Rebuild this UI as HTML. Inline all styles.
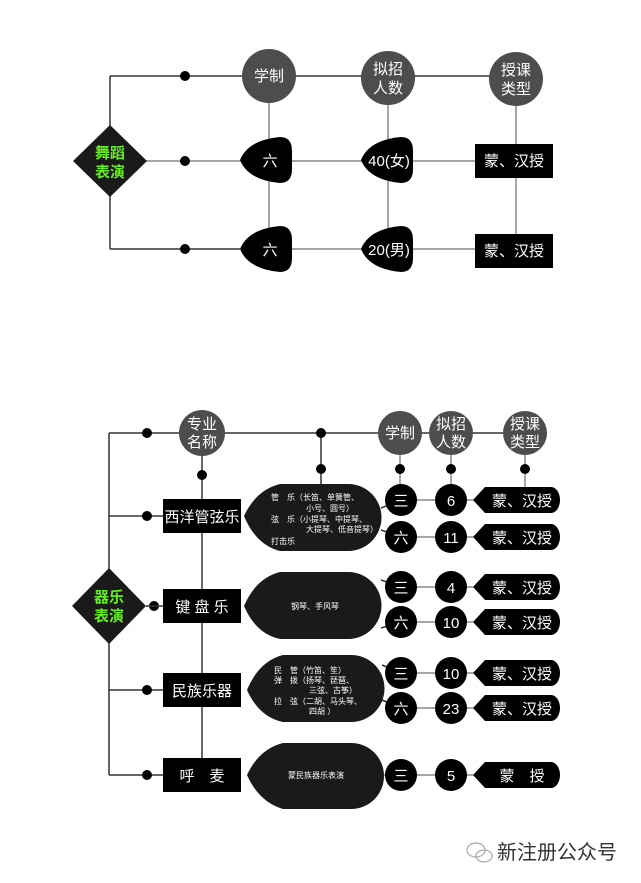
<!DOCTYPE html>
<html><head><meta charset="utf-8">
<style>
html,body{margin:0;padding:0;background:#fff;}
svg{display:block;}
text{font-family:"Liberation Sans","Noto Sans CJK SC",sans-serif;}
</style></head><body>
<svg width="641" height="883" viewBox="0 0 641 883" xmlns="http://www.w3.org/2000/svg">
<defs>
<path id="shield" d="M0,23 Q8,3 40,0 Q52,0 52,14 V32 Q52,46 40,46 Q8,43 0,23Z"/>
</defs>
<!-- TOP SECTION -->
<g stroke="#333" stroke-width="1.5" fill="none">
<path d="M110,76 V249 M110,76 H516 M110,249 H240"/>
</g>
<g stroke="#888" stroke-width="1.5" fill="none">
<path d="M146,161 H516 M269,76 V249 M388,76 V249 M516,79 V249 M292,249 H475"/>
</g>
<circle cx="185" cy="76" r="5" fill="#000"/>
<circle cx="185" cy="161" r="5" fill="#000"/>
<circle cx="185" cy="249" r="5" fill="#000"/>
<circle cx="269" cy="76" r="27" fill="#4d4d4d"/>
<circle cx="388" cy="78" r="27" fill="#4d4d4d"/>
<circle cx="516" cy="79" r="27" fill="#4d4d4d"/>
<g fill="#fff" font-size="15" text-anchor="middle">
<text x="269" y="81">学制</text>
<text x="388" y="74">拟招</text><text x="388" y="93">人数</text>
<text x="516" y="75">授课</text><text x="516" y="94">类型</text>
</g>
<polygon points="110,125 147,161 110,197 73,161" fill="#1a1a1a"/>
<g fill="#66ee22" font-size="15" font-weight="bold" text-anchor="middle">
<text x="110" y="158">舞蹈</text><text x="110" y="177">表演</text>
</g>
<use href="#shield" x="240" y="137" fill="#000"/>
<use href="#shield" x="361" y="137" fill="#000"/>
<use href="#shield" x="240" y="226" fill="#000"/>
<use href="#shield" x="361" y="226" fill="#000"/>
<rect x="475" y="144" width="78" height="34" fill="#000"/>
<rect x="475" y="234" width="78" height="34" fill="#000"/>
<g fill="#fff" font-size="15" text-anchor="middle">
<text x="270" y="166">六</text>
<text x="389" y="166">40(女)</text>
<text x="270" y="255">六</text>
<text x="389" y="255">20(男)</text>
<text x="514" y="166">蒙、汉授</text>
<text x="514" y="256">蒙、汉授</text>
</g>

<!-- BOTTOM SECTION -->
<g stroke="#333" stroke-width="1.5" fill="none">
<path d="M109,433 V775 M109,433 H525 M109,516 H163 M109,690 H163 M109,775 H163 M321,433 V484 M202,433 V775"/>
<path d="M381,508 L401,500 M381,530 L401,537 M381,580 L401,587 M381,628 L401,622 M382,665 L401,673 M382,700 L401,708"/>
</g>
<g stroke="#888" stroke-width="1.5" fill="none">
<path d="M400,433 V500 M451,433 V500 M525,433 V487 M401,500 H473 M401,537 H473 M401,587 H473 M401,622 H473 M401,673 H473 M401,708 H473 M381,775 H473"/>
</g>
<circle cx="147" cy="433" r="5" fill="#000"/>
<circle cx="321" cy="433" r="5" fill="#000"/>
<circle cx="321" cy="469" r="5" fill="#000"/>
<circle cx="202" cy="475" r="5" fill="#000"/>
<circle cx="400" cy="469" r="5" fill="#000"/>
<circle cx="451" cy="469" r="5" fill="#000"/>
<circle cx="525" cy="469" r="5" fill="#000"/>
<circle cx="147" cy="516" r="5" fill="#000"/>
<circle cx="154" cy="606" r="5" fill="#000"/>
<circle cx="147" cy="690" r="5" fill="#000"/>
<circle cx="147" cy="775" r="5" fill="#000"/>
<line x1="146" y1="606" x2="163" y2="606" stroke="#333" stroke-width="1.5"/>
<circle cx="202" cy="433" r="23" fill="#4d4d4d"/>
<circle cx="400" cy="433" r="22" fill="#4d4d4d"/>
<circle cx="451" cy="433" r="22" fill="#4d4d4d"/>
<circle cx="525" cy="433" r="22" fill="#4d4d4d"/>
<g fill="#fff" font-size="15" text-anchor="middle">
<text x="202" y="429">专业</text><text x="202" y="447">名称</text>
<text x="400" y="438">学制</text>
<text x="451" y="429">拟招</text><text x="451" y="447">人数</text>
<text x="525" y="429">授课</text><text x="525" y="447">类型</text>
</g>
<polygon points="109,568 146,606 109,644 72,606" fill="#1a1a1a"/>
<g fill="#66ee22" font-size="15" font-weight="bold" text-anchor="middle">
<text x="109" y="602">器乐</text><text x="109" y="621">表演</text>
</g>
<rect x="163" y="499" width="78" height="34" fill="#000"/>
<rect x="163" y="589" width="78" height="34" fill="#000"/>
<rect x="163" y="673" width="78" height="34" fill="#000"/>
<rect x="163" y="758" width="78" height="34" fill="#000"/>
<g fill="#fff" font-size="15" text-anchor="middle">
<text x="202" y="522">西洋管弦乐</text>
<text x="202" y="612">键 盘 乐</text>
<text x="202" y="696">民族乐器</text>
<text x="202" y="781">呼　麦</text>
</g>
<!-- clouds -->
<g fill="#1a1a1a">
<path d="M244,516 Q256,490 280,484 H348 A33,33 0 0 1 348,551 H280 Q256,545 244,516Z"/>
<path d="M244,606 Q256,578 280,572 H348 A33,33 0 0 1 348,639 H280 Q256,634 244,606Z"/>
<path d="M247,690 Q259,661 283,655 H351 A33,33 0 0 1 351,722 H283 Q259,717 247,690Z"/>
<path d="M247,775 Q259,749 283,743 H351 A33,33 0 0 1 351,809 H283 Q259,802 247,775Z"/>
</g>
<g fill="#fff" font-size="8">
<text x="271" y="500">管　乐（长笛、单簧管、</text>
<text x="306" y="511">小号、圆号）</text>
<text x="271" y="522">弦　乐（小提琴、中提琴、</text>
<text x="306" y="532">大提琴、低音提琴）</text>
<text x="271" y="544">打击乐</text>
<text x="291" y="609">钢琴、手风琴</text>
<text x="274" y="673">民　管（竹笛、笙）</text>
<text x="274" y="683">弹　拨（扬琴、琵琶、</text>
<text x="309" y="693">三弦、古筝）</text>
<text x="274" y="704">拉　弦（二胡、马头琴、</text>
<text x="309" y="714">四胡 ）</text>
<text x="288" y="778">蒙民族器乐表演</text>
</g>
<!-- small circles -->
<g fill="#000">
<circle cx="401" cy="500" r="16"/><circle cx="451" cy="500" r="16"/>
<circle cx="401" cy="537" r="16"/><circle cx="451" cy="537" r="16"/>
<circle cx="401" cy="587" r="16"/><circle cx="451" cy="587" r="16"/>
<circle cx="401" cy="622" r="16"/><circle cx="451" cy="622" r="16"/>
<circle cx="401" cy="673" r="16"/><circle cx="451" cy="673" r="16"/>
<circle cx="401" cy="708" r="16"/><circle cx="451" cy="708" r="16"/>
<circle cx="401" cy="775" r="16"/><circle cx="451" cy="775" r="16"/>
</g>
<g fill="#000">
<path d="M473,500 L485,487 H551 A9,13 0 0 1 551,513 H485Z"/>
<path d="M473,537 L485,524 H551 A9,13 0 0 1 551,550 H485Z"/>
<path d="M473,587 L485,574 H551 A9,13 0 0 1 551,600 H485Z"/>
<path d="M473,622 L485,609 H551 A9,13 0 0 1 551,635 H485Z"/>
<path d="M473,673 L485,660 H551 A9,13 0 0 1 551,686 H485Z"/>
<path d="M473,708 L485,695 H551 A9,13 0 0 1 551,721 H485Z"/>
<path d="M473,775 L485,762 H551 A9,13 0 0 1 551,788 H485Z"/>
</g>
<g fill="#fff" font-size="15" text-anchor="middle">
<text x="401" y="506">三</text><text x="451" y="506">6</text>
<text x="401" y="543">六</text><text x="451" y="543">11</text>
<text x="401" y="593">三</text><text x="451" y="593">4</text>
<text x="401" y="628">六</text><text x="451" y="628">10</text>
<text x="401" y="679">三</text><text x="451" y="679">10</text>
<text x="401" y="714">六</text><text x="451" y="714">23</text>
<text x="401" y="781">三</text><text x="451" y="781">5</text>
<text x="522" y="506">蒙、汉授</text>
<text x="522" y="543">蒙、汉授</text>
<text x="522" y="593">蒙、汉授</text>
<text x="522" y="628">蒙、汉授</text>
<text x="522" y="679">蒙、汉授</text>
<text x="522" y="714">蒙、汉授</text>
<text x="522" y="781">蒙　授</text>
</g>
<!-- watermark -->
<g fill="none" stroke="#aaa" stroke-width="1.2">
<ellipse cx="476" cy="850" rx="9" ry="7"/>
<ellipse cx="484" cy="856" rx="8" ry="6"/>
</g>
<text x="497" y="859" font-size="20" fill="#333">新注册公众号</text>
</svg>
</body></html>
